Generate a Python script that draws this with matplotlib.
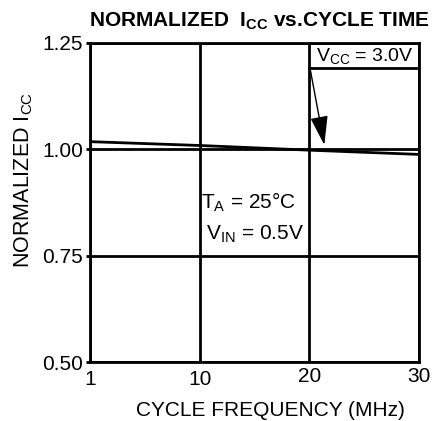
import matplotlib.pyplot as plt
import matplotlib.transforms as mtransforms
import numpy as np

plt.rcParams['font.family'] = ['Liberation Sans', 'DejaVu Sans']

# data
freq = [1, 10, 20, 30]
icc_norm = [1.018, 1.009, 0.998, 0.988]
x_ticks = [1, 10, 20, 30]
y_ticks = [0.50, 0.75, 1.00, 1.25]

# x axis has equal spacing between 1, 10, 20, 30
def fwd(x):
    return np.interp(x, x_ticks, [0, 1, 2, 3])

def inv(x):
    return np.interp(x, [0, 1, 2, 3], x_ticks)

fig = plt.figure(figsize=(4.33, 4.21), dpi=100)
ax = fig.add_axes([0.208, 0.140, 0.760, 0.758])
ax.set_xscale('function', functions=(fwd, inv))
ax.set_xlim(1, 30)
ax.set_ylim(0.50, 1.25)

ax.set_xticks(x_ticks)
ax.set_xticklabels([str(t) for t in x_ticks])
ax.set_yticks(y_ticks)
ax.set_yticklabels(['%.2f' % t for t in y_ticks])
ax.tick_params(axis='x', length=0, labelsize=15, pad=4)
ax.tick_params(axis='y', length=3, width=2, labelsize=15, pad=2)
ax.grid(True, color='black', linewidth=2)
for s in ax.spines.values():
    s.set_linewidth(2)

# uneven baseline of the x tick labels in the original
offs = [-2, -2, 1, 1]
for lab, dy in zip(ax.get_xticklabels(), offs):
    lab.set_transform(lab.get_transform() + mtransforms.ScaledTranslation(0, dy / 100, fig.dpi_scale_trans))

ax.plot(freq, icc_norm, color='black', linewidth=2)

ax.text(10.1, 0.862, r'T$_\mathregular{A}$ = 25°C', fontsize=15, va='baseline')
ax.text(10.6, 0.789, r'V$_\mathregular{IN}$ = 0.5V', fontsize=15, va='baseline')

# V_CC label with underline and arrow
ax.plot([20.0, 29.7], [1.191, 1.191], color='black', linewidth=2)
ax.text(20.6, 1.193, r'V$_\mathregular{CC}$ = 3.0V', fontsize=14, va='bottom')
ax.annotate('', xy=(21.4, 1.004), xytext=(20.05, 1.191),
            arrowprops=dict(arrowstyle='-|>,head_length=1.8,head_width=0.55', color='black', lw=1))

ax.set_xlabel('CYCLE FREQUENCY (MHz)', fontsize=15, labelpad=9)
ax.xaxis.label.set_x(0.547)
ax.set_ylabel(r'NORMALIZED I$_\mathregular{CC}$', fontsize=15.5)
ax.yaxis.set_label_coords(-0.168, 0.571)
ax.set_title(r'NORMALIZED  I$_\mathregular{CC}$ vs.CYCLE TIME', fontsize=15, fontweight='bold', pad=12, x=0.515)

fig.savefig('out.png', dpi=100)
